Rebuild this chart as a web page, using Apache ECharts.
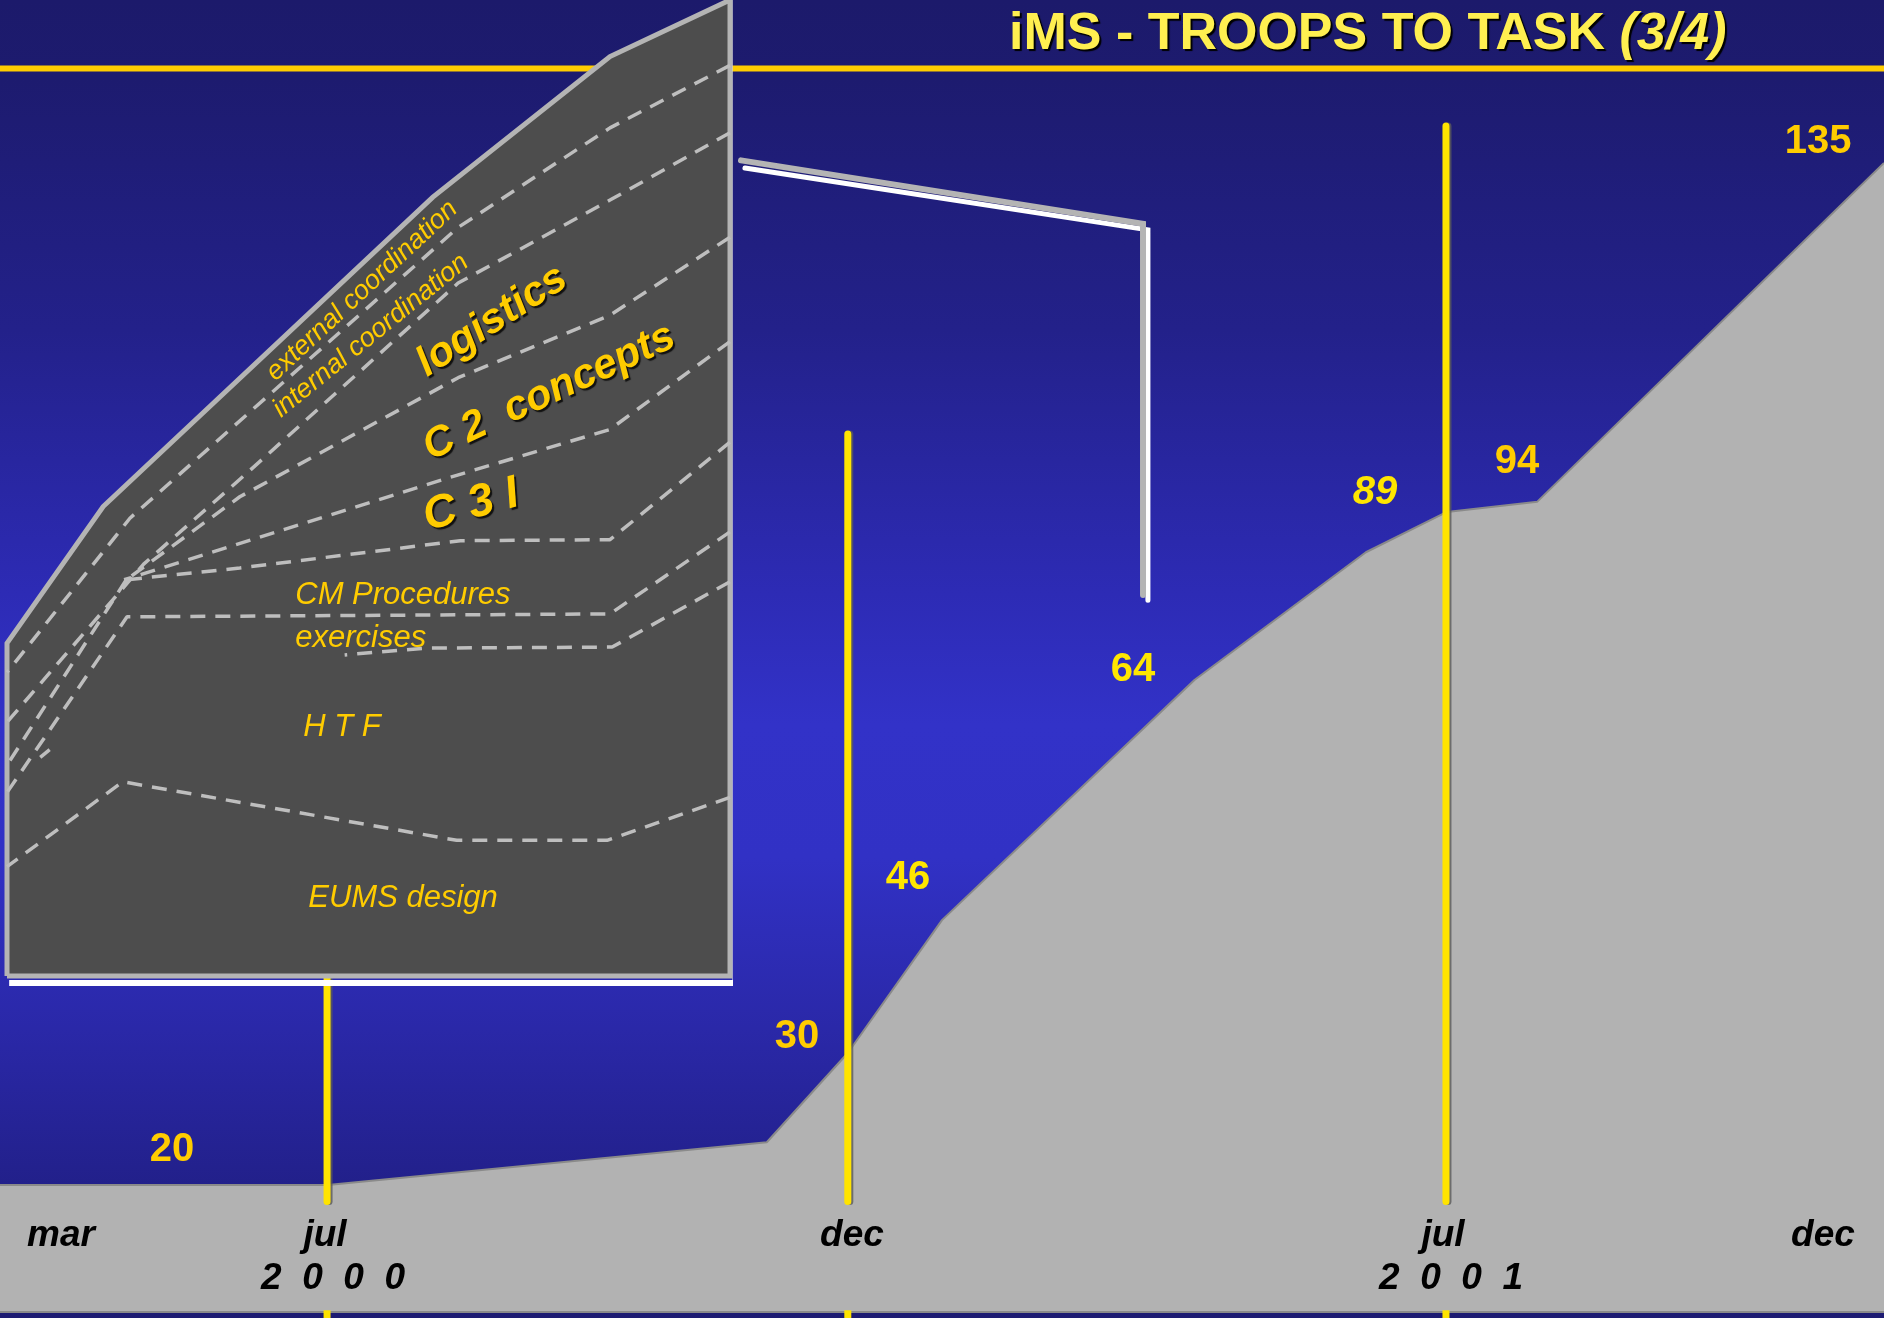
<!DOCTYPE html>
<html>
<head>
<meta charset="utf-8">
<script src="https://cdn.jsdelivr.net/npm/echarts/dist/echarts.min.js"></script>
<style>
html,body{margin:0;padding:0;background:#1d1b72;}
#c{width:1884px;height:1318px;}
</style>
</head>
<body>
<div id="c"></div>
<script>
// ---------------- DATA ----------------
// Main timeline (x = position along the timeline 0..100, y = troop level)
const timelinePos = [0, 17.4, 40.7, 45.0, 50.0, 63.4, 72.5, 76.8, 81.6, 100];
const troopLevel  = [14.8, 14.8, 19.8, 30.2, 45.7, 73.7, 88.6, 93.3, 94.5, 134.0];

// Milestone (yellow) markers
const milestoneNames = ['jul 2000', 'dec 2000', 'jul 2001'];
const milestonePos   = [17.36, 45.0, 76.75];
const milestoneTop   = [40, 102.4, 138.3];

// Axis texts
const monthLabels = ['mar', 'jul', 'dec', 'jul', 'dec'];
const monthPos    = [3.24, 17.25, 45.22, 76.59, 96.76];
const yearLabels  = ['2  0  0  0', '2  0  0  1'];
const yearPos     = [17.68, 77.02];

// Strength figures
const countLabels = ['20', '30', '46', '64', '89', '94', '135'];
const countPos    = [9.13, 42.30, 48.20, 60.14, 72.98, 80.52, 96.50];
const countLevel  = [18.9, 32.07, 50.61, 74.87, 95.51, 99.13, 136.44];

// Call-out from the inset to the timeline
const calloutBack  = [[39.33, 134.3], [60.67, 126.9], [60.67, 83.6]];
const calloutFront = [[39.54, 133.4], [60.93, 126.2], [60.93, 83.0]];
const headerRule   = [[0, 145.0], [100, 145.0]];

// Inset (task breakdown), own scale 0..100 x 0..100
const insetEnvelopeX = [0, 13.3, 58.9, 83.4, 100];
const insetEnvelopeY = [34.1, 48.1, 79.8, 94.2, 100];
const insetShadow    = [[100.76, 100], [100.76, -0.72], [0.3, -0.72]];

const boundaryExternal  = [[100, 93.3], [83.4, 86.9], [62.4, 76.7], [17.0, 46.9], [0, 31.1]];
const boundaryInternal  = [[100, 86.4], [83.4, 79.5], [62.4, 71.0], [33.6, 51.8], [18.9, 42.2], [0, 26.0]];
const boundaryLogistics = [[100, 75.7], [83.4, 67.7], [62.4, 61.3], [32.2, 49.1], [16.5, 40.6]];
const boundaryC2        = [[100, 65.0], [83.4, 56.0], [62.2, 51.3], [16.2, 40.6]];
const boundaryC3I       = [[100, 54.7], [83.4, 44.7], [62.7, 44.6], [32.2, 41.8], [16.5, 40.6]];
const boundaryMerged    = [[16.5, 40.6], [0, 21.6]];
const boundaryCM        = [[100, 45.5], [83.4, 37.1], [16.6, 36.8], [0, 18.8]];
const boundaryExercises = [[100, 40.4], [83.7, 33.7], [58.1, 33.6], [46.7, 32.9]];
const boundaryExTail    = [[4.6, 22.4], [5.9, 23.2]];
const boundaryEUMS      = [[100, 18.3], [83.0, 13.9], [62.2, 13.9], [16.0, 19.9], [0, 11.2]];

const taskNames = ['external coordination', 'internal coordination', 'logistics', 'C 2  concepts',
                   'C 3 I', 'CM Procedures', 'exercises', 'H T F', 'EUMS design'];
const taskPosX  = [49.1, 50.3, 67.1, 75.0, 64.2, 39.8, 39.8, 40.9, 41.6];
const taskPosY  = [70.2, 65.6, 67.1, 59.8, 48.2, 39.0, 34.6, 25.5, 8.0];

// ---------------- STYLE / LAYOUT ----------------
const FONT = "'Liberation Sans', Arial, sans-serif";
const GOLD = '#FFCC00';
const BRIGHT = '#FFE600';
const monthRow = 8.86, yearRow = 3.85, labelBandTop = 12.9;

const taskStyle = {
  'external coordination': {rotate: 43, fontSize: 27, fontWeight: 'normal', align: 'center', shadow: false},
  'internal coordination': {rotate: 39, fontSize: 27, fontWeight: 'normal', align: 'center', shadow: false},
  'logistics':             {rotate: 33, fontSize: 42, fontWeight: 'bold', align: 'center', shadow: true},
  'C 2  concepts':         {rotate: 25, fontSize: 42, fontWeight: 'bold', align: 'center', shadow: true},
  'C 3 I':                 {rotate: 15, fontSize: 46, fontWeight: 'bold', align: 'center', shadow: true},
  'CM Procedures':         {rotate: 0, fontSize: 31, fontWeight: 'normal', align: 'left', shadow: false},
  'exercises':             {rotate: 0, fontSize: 31, fontWeight: 'normal', align: 'left', shadow: false},
  'H T F':                 {rotate: 0, fontSize: 31, fontWeight: 'normal', align: 'left', shadow: false},
  'EUMS design':           {rotate: 0, fontSize: 31, fontWeight: 'normal', align: 'left', shadow: false}
};
const countStyle = {
  '20': {color: GOLD}, '30': {color: GOLD}, '46': {color: BRIGHT}, '64': {color: BRIGHT},
  '89': {color: BRIGHT, italic: true}, '94': {color: GOLD}, '135': {color: GOLD}
};
const HIDDEN_ITEM = {color: 'rgba(0,0,0,0)', opacity: 1, borderWidth: 0};

const chart = echarts.init(document.getElementById('c'), null, {renderer: 'canvas'});
const series = [];

// header rule
series.push({type: 'line', xAxisIndex: 0, yAxisIndex: 0, data: headerRule, symbol: 'none',
  lineStyle: {color: GOLD, width: 6}, z: 2, silent: true, clip: false});

// troop level area
series.push({type: 'line', name: 'troops', xAxisIndex: 0, yAxisIndex: 0,
  data: timelinePos.map((x, i) => [x, troopLevel[i]]), symbol: 'none',
  lineStyle: {color: '#8a8a8a', width: 2}, areaStyle: {color: '#B2B2B2', opacity: 1}, z: 3, silent: true});
series.push({type: 'line', xAxisIndex: 0, yAxisIndex: 0, data: [[0, 0], [100, 0]], symbol: 'none',
  lineStyle: {color: '#8a8a8a', width: 2}, z: 3, silent: true, clip: false});

// milestone lines
milestonePos.forEach((x, i) => {
  const ls = {color: '#FFE400', width: 7, cap: 'round', shadowColor: 'rgba(90,90,90,0.8)', shadowOffsetX: 2, shadowBlur: 0};
  series.push({type: 'line', name: milestoneNames[i], xAxisIndex: 0, yAxisIndex: 0,
    data: [[x, labelBandTop], [x, milestoneTop[i]]], symbol: 'none', lineStyle: ls, z: 4, silent: true});
  series.push({type: 'line', xAxisIndex: 0, yAxisIndex: 0,
    data: [[x, -0.7], [x, 0.2]], symbol: 'none', lineStyle: {color: '#FFE400', width: 7}, z: 4, silent: true, clip: false});
});

// call-out lines
series.push({type: 'line', xAxisIndex: 0, yAxisIndex: 0, data: calloutFront, symbol: 'none',
  lineStyle: {color: '#FFFFFF', width: 5, cap: 'round', join: 'miter'}, z: 5, silent: true});
series.push({type: 'line', xAxisIndex: 0, yAxisIndex: 0, data: calloutBack, symbol: 'none',
  lineStyle: {color: '#B4B4B4', width: 6, cap: 'round', join: 'miter'}, z: 5, silent: true});

// month / year labels
const axisText = {show: true, position: 'inside', formatter: p => p.value[2], color: '#000000', fontFamily: FONT,
    fontSize: 37, fontWeight: 'bold', fontStyle: 'italic', textBorderWidth: 0, opacity: 1};
series.push({type: 'scatter', xAxisIndex: 0, yAxisIndex: 0, symbolSize: 1, itemStyle: HIDDEN_ITEM,
  data: monthPos.map((x, i) => [x, monthRow, monthLabels[i]]), z: 6, silent: true, label: axisText});
series.push({type: 'scatter', xAxisIndex: 0, yAxisIndex: 0, symbolSize: 1, itemStyle: HIDDEN_ITEM,
  data: yearPos.map((x, i) => [x, yearRow, yearLabels[i]]), z: 6, silent: true, label: axisText});

// strength figures
countLabels.forEach((t, i) => {
  const st = countStyle[t];
  series.push({type: 'scatter', xAxisIndex: 0, yAxisIndex: 0, symbolSize: 1, itemStyle: HIDDEN_ITEM,
    data: [[countPos[i], countLevel[i], t]], z: 6, silent: true,
    label: {show: true, position: 'inside', formatter: p => p.value[2], color: st.color, fontFamily: FONT,
      fontSize: 40, fontWeight: 'bold', fontStyle: st.italic ? 'italic' : 'normal', textBorderWidth: 0, opacity: 1}});
});

// ---- inset panel ----
const envelope = insetEnvelopeX.map((x, i) => [x, insetEnvelopeY[i]]);
series.push({type: 'line', xAxisIndex: 1, yAxisIndex: 1, data: insetShadow, symbol: 'none', silent: true,
  lineStyle: {color: '#FFFFFF', width: 6, join: 'miter'}, z: 9, clip: false});
series.push({type: 'line', xAxisIndex: 1, yAxisIndex: 1, data: envelope, symbol: 'none', silent: true,
  lineStyle: {width: 0}, z: 10, clip: false,
  areaStyle: {color: '#4D4D4D', opacity: 1}});
series.push({type: 'line', xAxisIndex: 1, yAxisIndex: 1,
  data: [[0, 0]].concat(envelope).concat([[100, 0], [0, 0]]), symbol: 'none', silent: true,
  lineStyle: {color: '#B4B4B4', width: 5, join: 'miter'}, z: 11, clip: false});

[boundaryExternal, boundaryInternal, boundaryLogistics, boundaryC2, boundaryC3I, boundaryMerged,
 boundaryCM, boundaryExercises, boundaryExTail, boundaryEUMS].forEach(b => {
  series.push({type: 'line', xAxisIndex: 1, yAxisIndex: 1, data: b, symbol: 'none', silent: true,
    lineStyle: {color: '#BEBEBE', width: 3.5, type: [15, 10]}, z: 12, clip: false});
});

taskNames.forEach((t, i) => {
  const st = taskStyle[t];
  const lab = {show: true, formatter: p => p.value[2], color: GOLD, fontFamily: FONT,
    fontSize: st.fontSize, fontWeight: st.fontWeight, fontStyle: 'italic', rotate: st.rotate,
    textBorderWidth: 0, opacity: 1};
  if (st.align === 'left') { lab.position = 'right'; lab.distance = 0; }
  else { lab.position = 'inside'; lab.align = 'center'; lab.verticalAlign = 'middle'; }
  if (st.shadow) { lab.textShadowColor = '#111'; lab.textShadowOffsetX = 2; lab.textShadowOffsetY = 2; lab.textShadowBlur = 1; }
  series.push({type: 'scatter', xAxisIndex: 1, yAxisIndex: 1, symbolSize: 1, itemStyle: HIDDEN_ITEM,
    data: [[taskPosX[i], taskPosY[i], t]], z: 13, silent: true, label: lab});
});

const option = {
  animation: false,
  backgroundColor: {
    type: 'linear', x: 0, y: 0, x2: 0, y2: 1,
    colorStops: [
      {offset: 0, color: '#1C1A6B'},
      {offset: 0.06, color: '#1D1B6F'},
      {offset: 0.25, color: '#23218A'},
      {offset: 0.45, color: '#2D2BB5'},
      {offset: 0.55, color: '#3232C8'},
      {offset: 0.65, color: '#3131C5'},
      {offset: 0.78, color: '#2A28A8'},
      {offset: 0.9, color: '#22208A'},
      {offset: 1, color: '#1D1B72'}
    ]
  },
  title: {
    text: '{a|iMS - TROOPS TO TASK }{b|(3/4)}',
    left: 1004, top: 4,
    textStyle: {
      rich: {
        a: {fontFamily: FONT, fontSize: 52, fontWeight: 'bold', color: '#FFEF50',
            textShadowColor: '#000', textShadowOffsetX: 2, textShadowOffsetY: 2, textShadowBlur: 1},
        b: {fontFamily: FONT, fontSize: 52, fontWeight: 'bold', fontStyle: 'italic', color: '#FFEF50',
            textShadowColor: '#000', textShadowOffsetX: 2, textShadowOffsetY: 2, textShadowBlur: 1}
      }
    }
  },
  grid: [
    {left: 0, right: 0, top: 0, bottom: 0, containLabel: false},
    {left: 7, top: 0, width: 723, height: 976, containLabel: false}
  ],
  xAxis: [
    {type: 'value', gridIndex: 0, min: 0, max: 100, show: false},
    {type: 'value', gridIndex: 1, min: 0, max: 100, show: false}
  ],
  yAxis: [
    {type: 'value', gridIndex: 0, min: -0.7, max: 153, show: false},
    {type: 'value', gridIndex: 1, min: 0, max: 100, show: false}
  ],
  series: series
};
chart.setOption(option);
</script>
</body>
</html>
